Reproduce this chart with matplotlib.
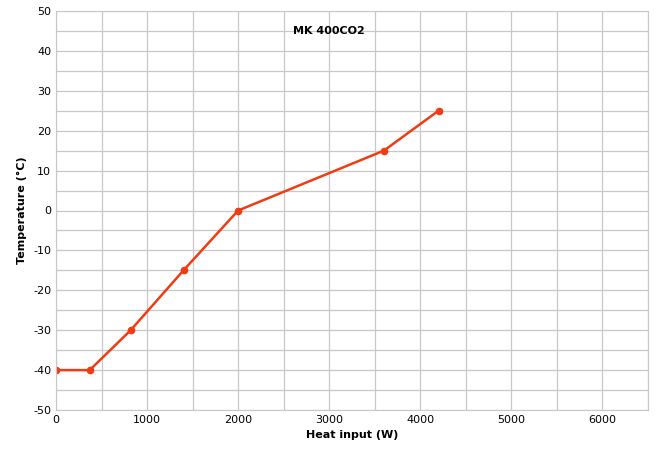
import matplotlib
matplotlib.use('Agg')
import matplotlib.pyplot as plt
from matplotlib.ticker import MultipleLocator

plt.rcParams['axes.unicode_minus'] = False

heat_input = [0, 370, 820, 1400, 2000, 3600, 4200]
temperature = [-40, -40, -30, -15, 0, 15, 25]

fig = plt.figure(figsize=(6.70, 4.62), dpi=100)
ax = fig.add_axes([56/670, 52/462, 592/670, 399/462])

ax.plot(heat_input, temperature, '-o', color='#f03c14', linewidth=1.8, markersize=4.5)

ax.set_xlim(0, 6500)
ax.set_ylim(-50, 50)
ax.xaxis.set_major_locator(MultipleLocator(1000))
ax.xaxis.set_minor_locator(MultipleLocator(500))
ax.yaxis.set_major_locator(MultipleLocator(10))
ax.yaxis.set_minor_locator(MultipleLocator(5))
ax.grid(True, which='both', color='#c8c8c8', linewidth=0.9)
ax.tick_params(which='both', length=0, labelsize=8)
for s in ax.spines.values():
    s.set_color('#c8c8c8')

ax.set_xlabel('Heat input (W)', fontsize=8, fontweight='bold')
ax.set_ylabel('Temperature (°C)', fontsize=8, fontweight='bold')
ax.text(3000, 45, 'MK 400CO2', fontsize=8, fontweight='bold', ha='center', va='center')

fig.savefig('out.png', dpi=100)
